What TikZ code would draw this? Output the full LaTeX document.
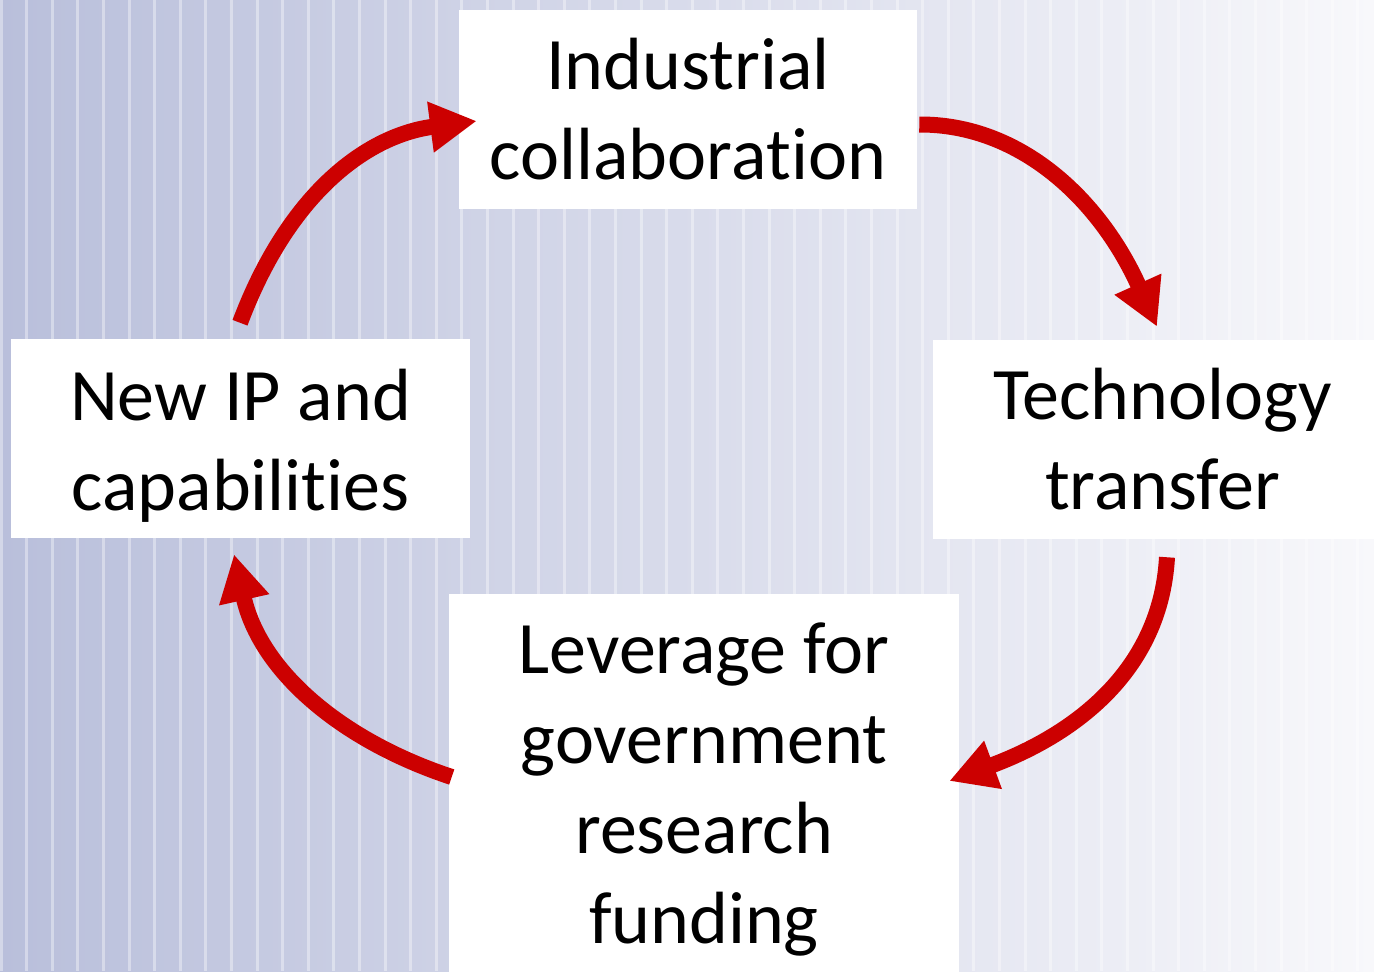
\documentclass[tikz,border=0pt]{standalone}
\usepackage{fontspec}
\setmainfont{Carlito}[RawFeature={-liga;-clig;-calt;-dlig;-rlig}]
\usetikzlibrary{arrows.meta,calc}
\definecolor{bgL}{RGB}{185,191,219}
\definecolor{bgR}{RGB}{248,248,251}
\definecolor{arrred}{RGB}{204,0,0}
\tikzset{
  box/.style={fill=white, inner sep=0pt, align=center,
    font=\fontsize{55.5}{67.5}\selectfont},
  arr/.style={draw=arrred, line width=12pt,
    -{Triangle[length=35pt,width=36pt]}}
}
\begin{document}
\begin{tikzpicture}[x=0.75pt,y=-0.75pt]
\useasboundingbox (0,0) rectangle (1374,971);
\clip (0,0) rectangle (1374,971);
\shade[left color=bgL, right color=bgR] (0,0) rectangle (1374,971);
\foreach \i in {0,...,54}{
  \fill[white,opacity=0.38] ({1+25.6*\i-1.5},0) rectangle ++(3,971);
}
\node[box, minimum width=343.5pt, minimum height=149.25pt] (ind) at (688,109.5) {Industrial\\collabora\kern0pt tion};
\node[box, minimum width=344.25pt, minimum height=149.25pt] (tech) at (1162.5,439.5) {Technology\\transfer};
\node[box, minimum width=344.25pt, minimum height=149.25pt] (newip) at (240.5,438.5) {\rule{0pt}{50pt}New IP and\\capabili\kern0pt ti\kern0pt es};
\node[box, minimum width=382.5pt, minimum height=292.5pt] (lev) at (704,789) {Leverage for\\government\\research\\funding};
\draw[arr] ($(newip.north)+(-0.5,-16)$) .. controls +(50,-133) and +(-107,14) .. ($(ind.west)+(18,11.5)$);
\draw[arr] ($(ind.east)+(2,15)$) .. controls +(101,-0.5) and +(-57,-127) .. ($(tech.north)+(-5.5,-13)$);
\draw[arr] ($(tech.south)+(4.5,18)$) .. controls +(-7,123) and +(111,-41) .. ($(lev.east)+(-10,-8)$);
\draw[arr] ($(lev.west)+(3,-12)$) .. controls +(-112,-37) and +(26,116) .. ($(newip.south)+(-6.5,16)$);
\end{tikzpicture}
\end{document}
